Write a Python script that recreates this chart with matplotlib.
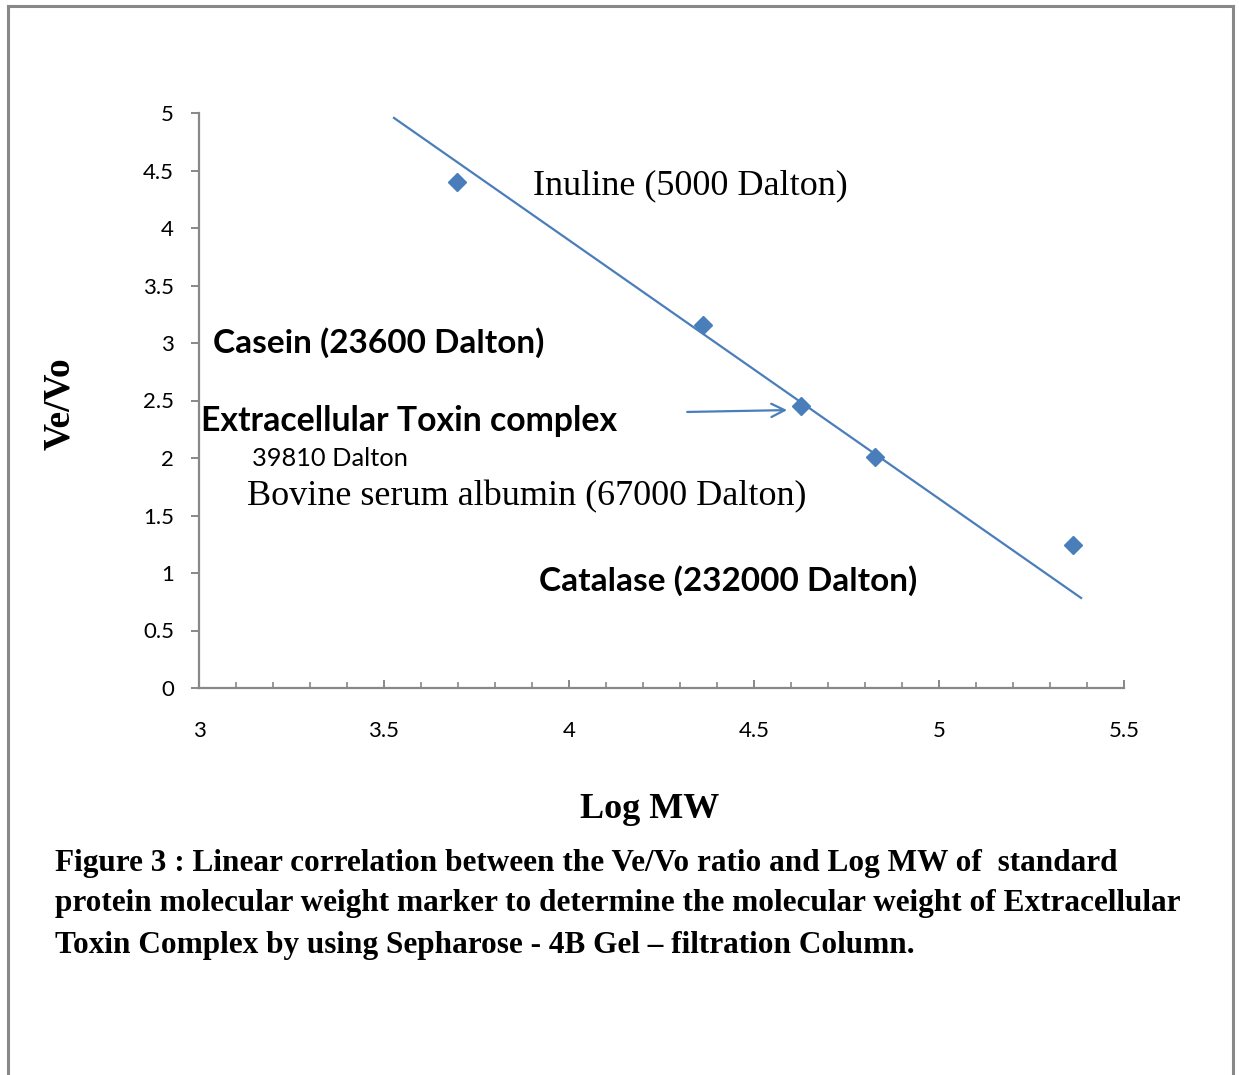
"""
Gel filtration calibration: Ve/Vo vs log MW for marker proteins,
with the extracellular toxin complex placed on the fitted line.
"""
import matplotlib
matplotlib.use("Agg")
import matplotlib.pyplot as plt
from matplotlib.lines import Line2D

# ---- data ----
log_mw = [3.697, 4.362, 4.627, 4.827, 5.362]
ve_vo = [4.40, 3.157, 2.452, 2.009, 1.243]

trend_x = [3.527, 5.384]          # drawn trendline end points
trend_y = [4.957, 0.783]

x_ticks = [3, 3.5, 4, 4.5, 5, 5.5]
y_ticks = [0, 0.5, 1, 1.5, 2, 2.5, 3, 3.5, 4, 4.5, 5]

BLUE = "#4a7ebb"
GRAY = "#888888"
SANS = ["Lato", "DejaVu Sans"]
SERIF = ["Liberation Serif", "DejaVu Serif"]

W, H = 1239, 1075
fig = plt.figure(figsize=(W / 100, H / 100), dpi=100)


def fx(px):
    return px / W


def fy(py):
    return 1 - py / H


# grey frame (left, top, right; bottom runs off the page)
for xs, ys in [((8, 8), (6, H)), ((8, 1233), (6, 6)), ((1233, 1233), (6, H))]:
    fig.add_artist(Line2D([fx(v) for v in xs], [fy(v) for v in ys],
                          color=GRAY, lw=2.2, transform=fig.transFigure))

ax = fig.add_axes([fx(199), fy(688), fx(1124) - fx(199), fy(113) - fy(688)])
ax.set_xlim(3, 5.5)
ax.set_ylim(0, 5)
for s in ("top", "right"):
    ax.spines[s].set_visible(False)
for s in ("left", "bottom"):
    ax.spines[s].set_color(GRAY)
    ax.spines[s].set_linewidth(1.6)

ax.set_xticks(x_ticks)
ax.set_xticklabels([f"{v:g}" for v in x_ticks])
ax.set_xticks([3 + 0.1 * i for i in range(26)], minor=True)
ax.set_yticks(y_ticks)
ax.set_yticklabels([f"{v:g}" for v in y_ticks])
ax.tick_params(axis="x", which="major", direction="in", length=6, width=1.4,
               color=GRAY, pad=24, labelsize=16)
ax.tick_params(axis="x", which="minor", direction="in", length=4, width=1.2,
               color=GRAY)
ax.tick_params(axis="y", direction="out", length=6, width=1.4, color=GRAY,
               pad=12, labelsize=16)
for lab in ax.get_xticklabels() + ax.get_yticklabels():
    lab.set_family(SANS)

ax.plot(trend_x, trend_y, color=BLUE, lw=1.6)
ax.plot(log_mw, ve_vo, "D", color=BLUE, ms=9, ls="none")

# annotations
ax.text(3.903, 4.365, "Inuline (5000 Dalton)", family=SERIF, fontsize=26,
        va="center", ha="left")
ax.text(3.038, 3.0, "Casein (23600 Dalton)", family=SANS, fontsize=24,
        fontweight="bold", va="center", ha="left")
ax.text(3.005, 2.325, "Extracellular Toxin complex", family=SANS, fontsize=24.3,
        fontweight="bold", va="center", ha="left")
ax.text(3.143, 1.995, "39810 Dalton", family=SANS, fontsize=18.3,
        va="center", ha="left")
ax.text(3.130, 1.66, "Bovine serum albumin (67000 Dalton)", family=SERIF,
        fontsize=26, va="center", ha="left")
ax.text(3.919, 0.93, "Catalase (232000 Dalton)", family=SANS, fontsize=24,
        fontweight="bold", va="center", ha="left")
ax.annotate("", xy=(4.597, 2.417), xytext=(4.312, 2.40),
            arrowprops=dict(arrowstyle="->", color=BLUE, lw=1.6,
                            mutation_scale=24))

fig.text(fx(60), fy(404), "Ve/Vo", family=SERIF, fontsize=27, fontweight="bold",
         rotation=90, ha="center", va="center")
fig.text(fx(650), fy(810), "Log MW", family=SERIF, fontsize=26,
         fontweight="bold", ha="center", va="center")

caption = [
    "Figure 3 : Linear correlation between the Ve/Vo ratio and Log MW of  standard",
    "protein molecular weight marker to determine the molecular weight of Extracellular",
    "Toxin Complex by using Sepharose - 4B Gel \u2013 filtration Column.",
]
for i, line in enumerate(caption):
    fig.text(fx(55), fy(863 + 41 * i), line, family=SERIF, fontsize=22.5,
             fontweight="bold", ha="left", va="center")

fig.savefig("out.png", dpi=100, facecolor="white")
